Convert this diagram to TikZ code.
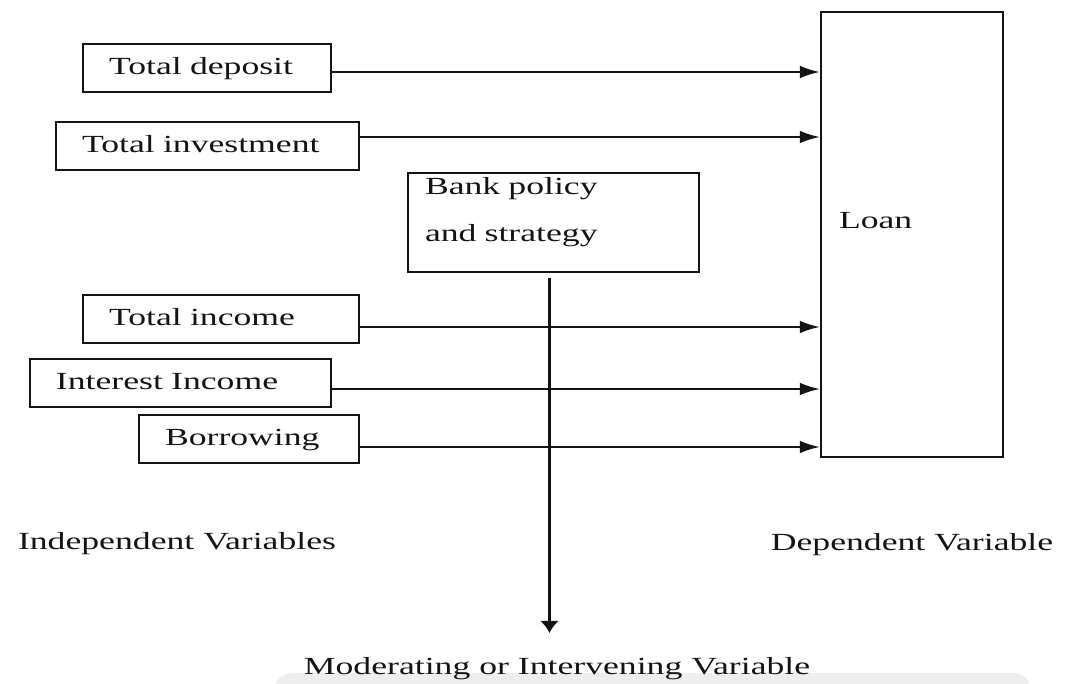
\documentclass[tikz,border=0pt]{standalone}
\usepackage{fontspec}
\setmainfont{Liberation Serif}[FakeStretch=1.45]
\usetikzlibrary{arrows.meta,positioning}

\definecolor{bandGray}{RGB}{238,238,238}
\definecolor{inkColor}{RGB}{20,20,20}

\tikzset{
  varBox/.style={draw=inkColor, line width=1.2pt, align=left, inner xsep=0.52cm,
    inner ysep=0pt, minimum height=0.96cm, text height=0.35cm, text depth=0.1cm,
    text=inkColor, font=\fontsize{14pt}{17pt}\selectfont},
  caption/.style={inner sep=0.1cm, text height=0.35cm, text depth=0.1cm,
    text=inkColor, font=\fontsize{14pt}{17pt}\selectfont},
  flow/.style={draw=inkColor, line width=1.3pt, -{Latex[length=4mm,width=2.5mm]}}
}

\begin{document}
\begin{tikzpicture}
  \useasboundingbox (0,0) rectangle (21.32,-13.68);
  \fill[bandGray, rounded corners=0.4cm] (5.46,-14.3) rectangle (20.65,-13.46);
  % Independent variables
  \node[varBox, text width=3.92cm] (dep) at (4.14,-1.36) {Total deposit};
  \node[varBox, text width=5.02cm] (inv) at (4.15,-2.92) {Total investment};
  \node[varBox, text width=4.48cm] (inc) at (4.42,-6.38) {Total income};
  \node[varBox, text width=4.98cm] (int) at (3.61,-7.66) {Interest Income};
  \node[varBox, text width=3.36cm] (bor) at (4.98,-8.78) {Borrowing};
  % Moderating variable
  \node[varBox, text width=5.14cm, inner xsep=0.34cm, inner ysep=0.08cm,
    text height=0.34cm, text depth=1.48cm] (bank) at (11.07,-4.45)
    {Bank policy\\[10pt]and strategy};
  % Dependent variable
  \node[varBox, text width=2.92cm, inner xsep=0.36cm, text height=4.32cm,
    text depth=4.58cm] (loan) at (18.24,-4.69) {Loan};
  % Captions
  \node[caption] (iv) at (3.54,-10.86) {Independent Variables};
  \node[caption, below=1.4cm of loan] (dv) {Dependent Variable};
  \node[caption] (mv) at (11.14,-13.36) {Moderating or Intervening Variable};
  % Arrows
  \draw[flow] ([yshift=-0.08cm]dep.east) -- ([yshift=-0.08cm]dep.east -| loan.west);
  \draw[flow] ([yshift=0.18cm]inv.east) -- ([yshift=0.18cm]inv.east -| loan.west);
  \draw[flow] ([yshift=-0.16cm]inc.east) -- ([yshift=-0.16cm]inc.east -| loan.west);
  \draw[flow] ([yshift=-0.12cm]int.east) -- ([yshift=-0.12cm]int.east -| loan.west);
  \draw[flow] ([yshift=-0.16cm]bor.east) -- ([yshift=-0.16cm]bor.east -| loan.west);
  \draw[flow, -{Latex[length=2.4mm,width=3.8mm]}] ([xshift=-0.08cm,yshift=-0.1cm]bank.south)
    -- ([xshift=-0.08cm,yshift=0.37cm]bank.south |- mv.north);
\end{tikzpicture}
\end{document}
